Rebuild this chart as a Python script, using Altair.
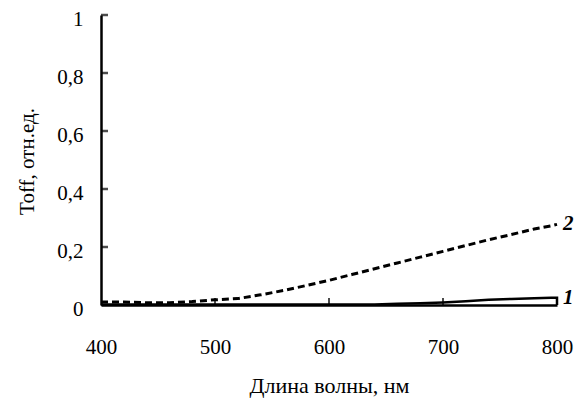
import altair as alt
import pandas as pd

# Data
wavelength = [400, 420, 440, 460, 480, 500, 520, 540, 560, 580, 600, 620, 640,
              660, 680, 700, 720, 740, 760, 780, 795, 800]
series1 = [0.002, 0.002, 0.002, 0.002, 0.002, 0.002, 0.002, 0.002, 0.002, 0.002,
           0.002, 0.002, 0.002, 0.004, 0.006, 0.009, 0.013, 0.018, 0.021, 0.023,
           0.025, 0.025]
series2 = [0.01, 0.01, 0.008, 0.008, 0.012, 0.018, 0.022, 0.035, 0.05, 0.067,
           0.085, 0.105, 0.125, 0.145, 0.165, 0.185, 0.205, 0.225, 0.243, 0.262,
           0.273, 0.278]
y_tick_values = [0, 0.2, 0.4, 0.6, 0.8, 1.0]
x_tick_values = [400, 500, 600, 700, 800]
series_labels = ["1", "2"]

FONT = "Liberation Serif"

# curve 1 closes down to the axis at its last wavelength
df1 = pd.DataFrame({"wl": wavelength + [wavelength[-1]], "v": series1 + [0.0]})
df1["i"] = range(len(df1))
df2 = pd.DataFrame({"wl": wavelength, "v": series2})
labels_df = pd.DataFrame({
    "wl": [wavelength[-1], wavelength[-1]],
    "v": [series1[-1], series2[-1]],
    "lab": series_labels,
    "dy": [-10, 3],
})
yt_df = pd.DataFrame({"v": y_tick_values[1:]})
xt_df = pd.DataFrame({"wl": x_tick_values[1:-1]})

x_scale = alt.Scale(domain=[400, 800], nice=False, zero=False)
y_scale = alt.Scale(domain=[0, 1], nice=False)

x_axis = alt.Axis(
    values=x_tick_values, ticks=False, tickSize=0, labelPadding=42,
    labelFlush=False, labelBaseline="middle", labelColor="black",
    labelFont=FONT, labelFontSize=21, titleFont=FONT, titleFontSize=22,
    titleColor="black", titleX=228, titleY=80, titleBaseline="middle",
)
y_axis = alt.Axis(
    values=y_tick_values, ticks=False, tickSize=0, labelPadding=18, labelFlush=False,
    labelOffset=4, labelColor="black",
    labelExpr="replace(toString(datum.value), '.', ',')",
    labelFont=FONT, labelFontSize=21, titleFont=FONT, titleFontSize=21,
    titleColor="black", titleX=-74, titleY=146, titleAngle=-90, titleAlign="center",
    titleBaseline="middle",
)

X = alt.X("wl:Q", scale=x_scale, axis=x_axis, title="Длина волны, нм")
Y = alt.Y("v:Q", scale=y_scale, axis=y_axis, title="Toff, отн.ед.")

line1 = alt.Chart(df1).mark_line(color="black", strokeWidth=2.5).encode(
    x=X, y=Y, order=alt.Order("i:Q"))
line2 = alt.Chart(df2).mark_line(color="black", strokeWidth=3, strokeDash=[7, 4]).encode(x=X, y=Y)
texts = alt.Chart(labels_df).mark_text(
    font=FONT, fontSize=21, fontStyle="italic", fontWeight="bold",
    align="left", baseline="middle", dx=6, color="black",
).encode(
    x=X, y=Y,
    text="lab:N",
    yOffset=alt.YOffset("dy:Q", scale=None),
)
yticks = alt.Chart(yt_df).mark_tick(orient="horizontal", size=7, thickness=2.5, color="black").encode(
    y=Y,
    x=alt.value(3.5),
)
xticks = alt.Chart(xt_df).mark_tick(orient="vertical", size=7, thickness=2, color="black").encode(
    x=X,
    y=alt.value(286.5),
)

chart = alt.layer(line1, line2, texts, yticks, xticks).properties(
    width=456, height=290,
    autosize=alt.AutoSizeParams(type="none"),
    padding={"left": 101, "top": 15, "right": 19, "bottom": 96},
    background="white",
).configure_view(stroke=None).configure_axis(
    labelColor="black", titleFontWeight="normal", titleColor="black",
    domainColor="black", domainWidth=2.5, grid=False,
)

chart.save("out.html", embed_options={"renderer": "svg", "actions": False})
